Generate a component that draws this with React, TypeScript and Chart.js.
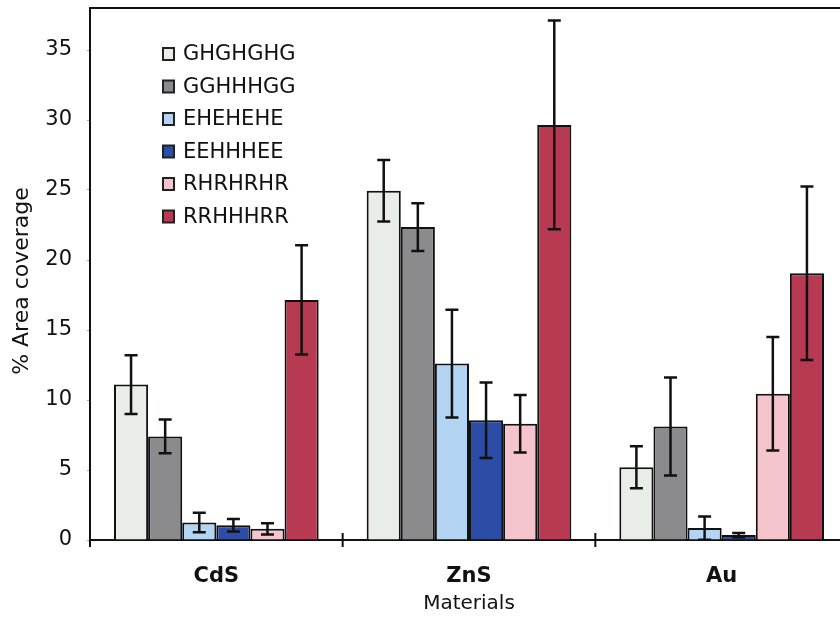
import React, { useEffect, useRef } from "react";
import { Chart, registerables } from "chart.js";

Chart.register(...registerables);

// Categories and series
const materials = ["CdS", "ZnS", "Au"];
const sequences = ["GHGHGHG", "GGHHHGG", "EHEHEHE", "EEHHHEE", "RHRHRHR", "RRHHHRR"];

// Mean % area coverage per material (CdS, ZnS, Au)
const ghghghg = [11.1, 24.95, 5.2];
const gghhhgg = [7.4, 22.35, 8.1];
const ehehehe = [1.25, 12.6, 0.85];
const eehhhee = [1.05, 8.55, 0.35];
const rhrhrhr = [0.8, 8.3, 10.45];
const rrhhhrr = [17.15, 29.65, 19.05];

// Error-bar half-widths (same order)
const ghghghgErr = [2.1, 2.2, 1.5];
const gghhhggErr = [1.2, 1.7, 3.5];
const eheheheErr = [0.7, 3.85, 0.83];
const eehhheeErr = [0.45, 2.7, 0.15];
const rhrhrhrErr = [0.4, 2.05, 4.05];
const rrhhhrrErr = [3.9, 7.45, 6.2];

// Y axis
const yMin = 0;
const yMax = 38;
const yTicks = [0, 5, 10, 15, 20, 25, 30, 35];

const seriesValues = [ghghghg, gghhhgg, ehehehe, eehhhee, rhrhrhr, rrhhhrr];
const seriesErrors = [ghghghgErr, gghhhggErr, eheheheErr, eehhheeErr, rhrhrhrErr, rrhhhrrErr];
const seriesColors = ["#e9ede8", "#8b8b8d", "#b3d5f3", "#2d4ca6", "#f5c5cd", "#b73a52"];

const FONT = "'DejaVu Sans', Verdana, sans-serif";

const errorBarPlugin = {
  id: "errorBars",
  afterDatasetsDraw(chart: any) {
    const { ctx } = chart;
    const y = chart.scales.y;
    ctx.save();
    ctx.strokeStyle = "#111";
    ctx.lineWidth = 2.5;
    chart.data.datasets.forEach((ds: any, i: number) => {
      const meta = chart.getDatasetMeta(i);
      const errs = seriesErrors[i];
      meta.data.forEach((bar: any, j: number) => {
        const v = ds.data[j];
        const e = errs[j];
        const top = y.getPixelForValue(v + e);
        const bot = y.getPixelForValue(Math.max(0, v - e));
        const cap = 6.5;
        ctx.beginPath();
        ctx.moveTo(bar.x, top);
        ctx.lineTo(bar.x, bot);
        ctx.moveTo(bar.x - cap, top);
        ctx.lineTo(bar.x + cap, top);
        ctx.moveTo(bar.x - cap, bot);
        ctx.lineTo(bar.x + cap, bot);
        ctx.stroke();
      });
    });
    ctx.restore();
  },
};

const framePlugin = {
  id: "frame",
  afterDraw(chart: any) {
    const { ctx, chartArea } = chart;
    const x = chart.scales.x;
    ctx.save();
    ctx.strokeStyle = "#111";
    ctx.lineWidth = 2;
    // top border of the plot area
    ctx.beginPath();
    ctx.moveTo(chartArea.left - 1, chartArea.top);
    ctx.lineTo(chartArea.right, chartArea.top);
    ctx.stroke();
    // category boundary ticks crossing the x axis
    const n = chart.data.labels.length;
    const w = (x.right - x.left) / n;
    for (let i = 0; i <= n; i++) {
      const px = x.left + i * w;
      ctx.beginPath();
      ctx.moveTo(px, chartArea.bottom - (i === 0 ? 0 : 7));
      ctx.lineTo(px, chartArea.bottom + 7);
      ctx.stroke();
    }
    // rotated y-axis title
    ctx.fillStyle = "#111";
    ctx.font = `22px ${FONT}`;
    ctx.textAlign = "center";
    ctx.textBaseline = "middle";
    ctx.translate(22, 281);
    ctx.rotate(-Math.PI / 2);
    ctx.fillText("% Area coverage", 0, 0);
    ctx.restore();
  },
};

const legendPlugin = {
  id: "insetLegend",
  afterDraw(chart: any) {
    const { ctx } = chart;
    ctx.save();
    ctx.font = `21px ${FONT}`;
    ctx.textAlign = "left";
    ctx.textBaseline = "middle";
    chart.data.datasets.forEach((ds: any, i: number) => {
      const cy = 54 + i * 32.5;
      ctx.fillStyle = ds.backgroundColor;
      ctx.fillRect(163, cy - 6, 11, 12);
      ctx.strokeStyle = "#222";
      ctx.lineWidth = 2;
      ctx.strokeRect(163, cy - 6, 11, 12);
      ctx.fillStyle = "#111";
      ctx.fillText(ds.label, 183, cy + 1);
    });
    ctx.restore();
  },
};

export default function App() {
  const canvasRef = useRef<HTMLCanvasElement | null>(null);

  useEffect(() => {
    if (!canvasRef.current) return;
    const chart = new Chart(canvasRef.current, {
      type: "bar",
      data: {
        labels: materials,
        datasets: sequences.map((name, i) => ({
          label: name,
          data: seriesValues[i],
          backgroundColor: seriesColors[i],
          borderColor: "#111",
          borderWidth: 2,
          barPercentage: 1.0,
          categoryPercentage: 0.81,
        })),
      },
      options: {
        animation: false,
        responsive: false,
        maintainAspectRatio: false,
        layout: { padding: { left: 0, right: 12, top: 8, bottom: 0 } },
        plugins: {
          legend: { display: false },
          tooltip: { enabled: false },
        },
        scales: {
          x: {
            afterFit: (s: any) => {
              s.height = 77;
              s.paddingLeft = 0;
              s.paddingRight = 0;
            },
            grid: { display: false, drawTicks: false },
            border: { display: true, color: "#111", width: 2 },
            ticks: {
              color: "#111",
              padding: 24,
              font: { family: FONT, size: 21, weight: "bold" },
            },
            title: {
              display: true,
              text: "Materials",
              color: "#111",
              font: { family: FONT, size: 20 },
              padding: { top: 0, bottom: 1 },
            },
          },
          y: {
            min: yMin,
            max: yMax,
            afterBuildTicks: (s: any) => {
              s.ticks = yTicks.map((v) => ({ value: v }));
            },
            afterFit: (s: any) => {
              s.width = 90;
              s.paddingTop = 0;
              s.paddingBottom = 0;
            },
            grid: { drawOnChartArea: false, drawTicks: true, tickLength: 3, color: "#aaa" },
            border: { display: true, color: "#111", width: 2 },
            ticks: {
              color: "#111",
              padding: 15,
              font: { family: FONT, size: 21 },
            },
          },
        },
      },
      plugins: [errorBarPlugin, framePlugin, legendPlugin],
    });
    return () => chart.destroy();
  }, []);

  return (
    <div
      style={{
        position: "fixed",
        left: 0,
        top: 0,
        width: 840,
        height: 617,
        overflow: "hidden",
        background: "#fff",
      }}
    >
      <canvas ref={canvasRef} width={860} height={617} style={{ width: 860, height: 617 }} />
    </div>
  );
}
